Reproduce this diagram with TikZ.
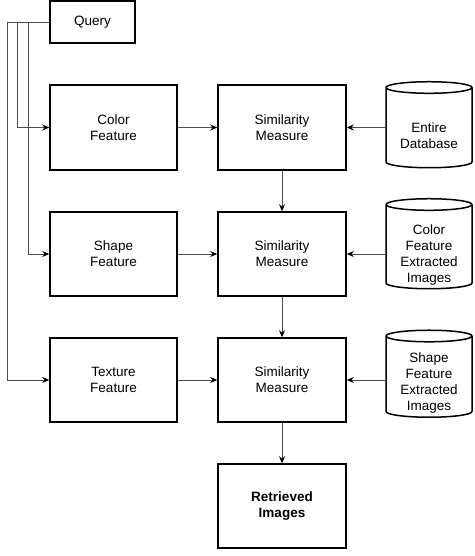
\documentclass[tikz,border=0pt]{standalone}
\usepackage{fontspec}
\setmainfont{Liberation Sans}
\usetikzlibrary{shapes.geometric,arrows.meta}

\begin{document}
\begin{tikzpicture}[x=1pt,y=-1pt,
  txt/.style={align=center,inner sep=0pt,font=\fontsize{13.5}{16}\selectfont},
  box/.style={txt,draw,line width=1.5pt},
  dbase/.style={box,cylinder,shape border rotate=90,aspect=0.2,
    minimum width=86pt},
  conn/.style={draw=black!70,line width=0.9pt,
    -{Stealth[length=7pt,width=6pt,color=black]}}]

\useasboundingbox (0,0) rectangle (474,556);

\node[box,minimum width=85pt,minimum height=42pt] (query) at (92.5,22) {Query};

\node[box,minimum width=127pt,minimum height=85pt] (color) at (113.5,127.5) {Color\\Feature};
\node[box,minimum width=127pt,minimum height=84pt] (shape) at (113.5,254) {Shape\\Feature};
\node[box,minimum width=127pt,minimum height=84pt] (texture) at (113.5,380) {Texture\\Feature};

\node[box,minimum width=128pt,minimum height=85pt] (sim1) at (282,127.5) {Similarity\\Measure};
\node[box,minimum width=128pt,minimum height=84pt] (sim2) at (282,254) {Similarity\\Measure};
\node[box,minimum width=128pt,minimum height=84pt] (sim3) at (282,380) {Similarity\\Measure};
\node[box,minimum width=128pt,minimum height=84pt] (result) at (282,506) {\bfseries Retrieved\\\bfseries Images};

\node[dbase,minimum height=86pt,
  label={[txt,yshift=-7.5pt]center:Entire\\Database}] (db1) at (429,128) {\phantom{Database}};
\node[dbase,minimum height=90pt,
  label={[txt,yshift=-8.5pt]center:Color\\Feature\\Extracted\\Images}] (db2) at (429,247) {\phantom{Database}};
\node[dbase,minimum height=87pt,
  label={[txt,yshift=-6.5pt]center:Shape\\Feature\\Extracted\\Images}] (db3) at (429,377) {\phantom{Database}};

% query to the features
\draw[conn] (query.west) -- ++(-32,0) |- (color.west);
\draw[conn] (query.west) -- ++(-21,0) |- (shape.west);
\draw[conn] (query.west) -- ++(-42,0) |- (texture.west);

% features to the measures
\draw[conn] (color) -- (sim1);
\draw[conn] (shape) -- (sim2);
\draw[conn] (texture) -- (sim3);

% images to the measures
\draw[conn] (db1.west |- sim1) -- (sim1.east);
\draw[conn] (db2.west |- sim2) -- (sim2.east);
\draw[conn] (db3.west |- sim3) -- (sim3.east);

% measures downwards
\draw[conn] (sim1) -- (sim2);
\draw[conn] (sim2) -- (sim3);
\draw[conn] (sim3) -- (result);

\end{tikzpicture}
\end{document}
